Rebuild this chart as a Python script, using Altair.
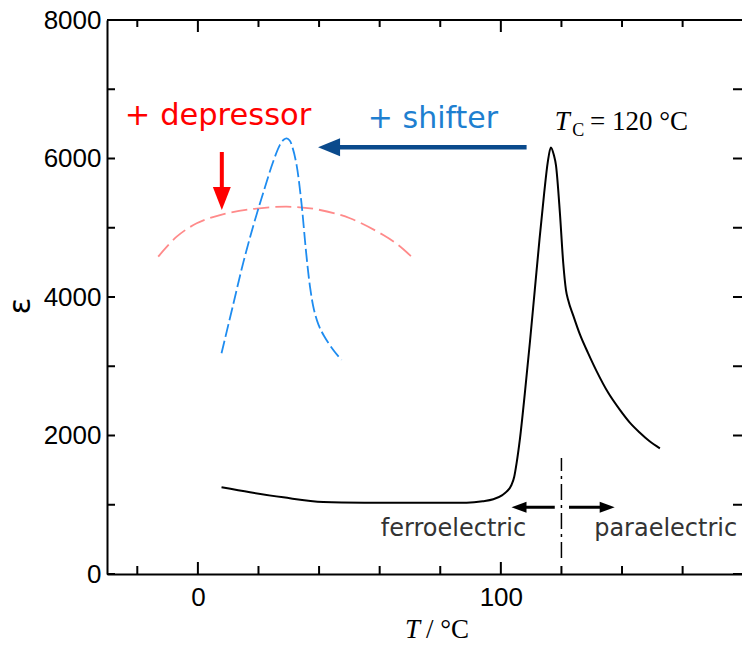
import altair as alt
import pandas as pd

# ---------------- data ----------------
# base material (black, solid)
T_black = [7.8, 17.2, 28.2, 41.4, 55, 70, 88.7, 94, 97.5, 100.5, 101.9, 103.5, 104.4,
           105.2, 106.3, 107.9, 109.6, 111.2, 112.8, 114.3, 115.5, 116.5, 117.5, 118.2,
           119.5, 120.6, 121.5, 122.2, 124.0, 126.1, 128.8, 131.6, 135.4, 139.3, 142.5,
           145.9, 149.0, 152.5]
eps_black = [1252, 1180, 1107, 1040, 1030, 1028, 1030, 1050, 1079, 1140, 1189, 1285, 1400,
             1600, 1950, 2600, 3350, 4100, 4850, 5500, 5950, 6160, 6050, 5900,
             5209, 4487, 4100, 3960, 3720, 3460, 3190, 2930, 2620, 2370, 2190,
             2040, 1920, 1815]

# + shifter (blue, dashed)
T_shifter = [7.8, 11.7, 15.0, 18.3, 21.6, 24.9, 27.0, 28.3, 29.3, 30.3, 31.3, 32.6, 34.2,
             35.6, 37.0, 38.3, 39.8, 41.6, 44.7, 47.4]
eps_shifter = [3187, 3900, 4500, 5030, 5510, 5960, 6190, 6270, 6290, 6260, 6150, 5900, 5353,
               4700, 4150, 3820, 3600, 3440, 3235, 3090]

# + depressor (pink, dashed)
T_depressor = [-13.1, -7.0, -0.4, 7.3, 17.2, 29.3, 39.2, 50.2, 61.2, 66.1, 70.6]
eps_depressor = [4582, 4871, 5064, 5184, 5266, 5304, 5266, 5137, 4895, 4751, 4578]

# axis ticks
x_labels = [0, 100]
x_minor = [-20, 20, 40, 60, 80, 120, 140, 160]
x_major = [0, 100]
y_labels = [0, 2000, 4000, 6000, 8000]
y_ticks = [0, 1000, 2000, 3000, 4000, 5000, 6000, 7000, 8000]

# annotation anchors (data coordinates)
Tc = 120
tc_line = [231, 1675]          # vertical dash-dot line extent (eps)
red_arrow = dict(T=7.9, top=6094, head=5422)
navy_arrow = dict(start=108.5, head=43.3, eps=6162)
phase_arrows_eps = 963
left_arrow = dict(start=117.8, head=106.0)
right_arrow = dict(start=122.5, head=135.1)

labels_depressor = [{"x": -24.1, "y": 6484, "t": "+ depressor"}]
labels_shifter = [{"x": 56.1, "y": 6440, "t": "+ shifter"}]
labels_phase = [{"x": 60.4, "y": 549, "t": "ferroelectric"},
                {"x": 130.8, "y": 549, "t": "paraelectric"}]
tc_T = [{"x": 117.8, "y": 6412, "t": "T"}]
tc_sub = [{"x": 123.6, "y": 6325, "t": "C"}]
tc_rest = [{"x": 129.4, "y": 6412, "t": "= 120 °C"}]

# ---------------- layout ----------------
W, H = 635, 554
xs = alt.Scale(domain=[-30, 179.6], nice=False, zero=False)
ys = alt.Scale(domain=[0, 8000], nice=False, zero=False)

x_axis = alt.Axis(values=x_labels, title=None, ticks=False, grid=False, format="d",
                  domainColor="black", domainWidth=2, labelFont="Liberation Sans",
                  labelFontSize=26, labelColor="black", labelPadding=10, labelFlush=False)
y_axis = alt.Axis(values=y_labels, title=None, ticks=False, grid=False, format="d",
                  domainColor="black", domainWidth=2, labelFont="Liberation Sans",
                  labelFontSize=26, labelColor="black", labelPadding=6, labelFlush=False)


def X(f="T"):
    return alt.X(f"{f}:Q", scale=xs, axis=x_axis)


def Y(f="eps"):
    return alt.Y(f"{f}:Q", scale=ys, axis=y_axis)


one = pd.DataFrame({"a": [0]})

black = alt.Chart(pd.DataFrame({"T": T_black, "eps": eps_black})).mark_line(
    color="black", strokeWidth=2, interpolate="monotone").encode(x=X(), y=Y())

blue = alt.Chart(pd.DataFrame({"T": T_shifter, "eps": eps_shifter})).mark_line(
    color="#1e8cf0", strokeWidth=1.8, strokeDash=[13, 4], interpolate="catmull-rom"
).encode(x=X(), y=Y())

pink = alt.Chart(pd.DataFrame({"T": T_depressor, "eps": eps_depressor})).mark_line(
    color="#ff8a8a", strokeWidth=1.8, strokeDash=[16, 6], interpolate="catmull-rom"
).encode(x=X(), y=Y())

# red arrow (down)
red_shaft = alt.Chart(pd.DataFrame([red_arrow])).mark_rule(color="#ff0000", strokeWidth=4).encode(
    x=X("T"), y=Y("top"), y2="head:Q")
red_head = alt.Chart(pd.DataFrame([red_arrow])).mark_point(
    shape="M-0.78,-1L0.78,-1L0,1Z", size=529, filled=True, opacity=1,
    color="#ff0000", strokeWidth=0).encode(x=X("T"), y=Y("head"))

# navy arrow (left)
navy_shaft = alt.Chart(pd.DataFrame([navy_arrow])).mark_rule(color="#0a4a8c", strokeWidth=4.5).encode(
    x=X("start"), x2="head:Q", y=Y("eps"))
navy_head = alt.Chart(pd.DataFrame([navy_arrow])).mark_point(
    shape="M1,-0.82L1,0.82L-1,0Z", size=484, filled=True, opacity=1,
    color="#0a4a8c", strokeWidth=0).encode(x=X("head"), y=Y("eps"))

# phase arrows
pa = pd.DataFrame([{**left_arrow, "eps": phase_arrows_eps, "dir": "L"},
                   {**right_arrow, "eps": phase_arrows_eps, "dir": "R"}])
pa_shaft = alt.Chart(pa).mark_rule(color="black", strokeWidth=3).encode(
    x=X("start"), x2="head:Q", y=Y("eps"))
pa_head_l = alt.Chart(pa[pa.dir == "L"]).mark_point(
    shape="M1,-0.73L1,0.73L-1,0Z", size=225, filled=True, opacity=1,
    color="black", strokeWidth=0).encode(x=X("head"), y=Y("eps"))
pa_head_r = alt.Chart(pa[pa.dir == "R"]).mark_point(
    shape="M-1,-0.73L-1,0.73L1,0Z", size=225, filled=True, opacity=1,
    color="black", strokeWidth=0).encode(x=X("head"), y=Y("eps"))

tc_rule = alt.Chart(pd.DataFrame({"T": [Tc], "e1": [tc_line[0]], "e2": [tc_line[1]]})).mark_rule(
    color="black", strokeWidth=1.5, strokeDash=[16, 5, 3, 5]).encode(x=X("T"), y=Y("e1"), y2="e2:Q")


def txt(rows, **kw):
    return alt.Chart(pd.DataFrame(rows)).mark_text(align="left", baseline="alphabetic", **kw).encode(
        x=X("x"), y=Y("y"), text="t:N")


t_dep = txt(labels_depressor, font="DejaVu Sans", fontSize=30.5, color="#ff0000")
t_shf = txt(labels_shifter, font="DejaVu Sans", fontSize=30, color="#1e7fd0")
t_phase = txt(labels_phase, font="DejaVu Sans", fontSize=24, color="#333333")
t_tc1 = txt(tc_T, font="Liberation Serif", fontSize=27, fontStyle="italic", color="black")
t_tc2 = txt(tc_sub, font="Liberation Serif", fontSize=18, color="black")
t_tc3 = txt(tc_rest, font="Liberation Serif", fontSize=27, color="black")

# axis titles
xt1 = alt.Chart(one).mark_text(align="left", baseline="alphabetic", font="Liberation Serif",
                               fontSize=27, fontStyle="italic", color="black", text="T").encode(
    x=alt.value(298), y=alt.value(618))
xt2 = alt.Chart(one).mark_text(align="left", baseline="alphabetic", font="Liberation Serif",
                               fontSize=27, color="black", text="/ °C").encode(
    x=alt.value(319), y=alt.value(618))
yt = alt.Chart(one).mark_text(align="center", baseline="middle", font="DejaVu Sans",
                              fontSize=31, color="black", angle=270, text="ε").encode(
    x=alt.value(-86), y=alt.value(286))

# inward ticks & top frame
bx_minor = alt.Chart(pd.DataFrame({"T": x_minor})).mark_rule(color="black", strokeWidth=2).encode(
    x=X("T"), y=alt.value(H), y2=alt.value(H - 8))
bx_major = alt.Chart(pd.DataFrame({"T": x_major})).mark_rule(color="black", strokeWidth=2).encode(
    x=X("T"), y=alt.value(H), y2=alt.value(H - 12))
tx_minor = alt.Chart(pd.DataFrame({"T": x_minor})).mark_rule(color="black", strokeWidth=2).encode(
    x=X("T"), y=alt.value(0), y2=alt.value(7))
tx_major = alt.Chart(pd.DataFrame({"T": x_major})).mark_rule(color="black", strokeWidth=2).encode(
    x=X("T"), y=alt.value(0), y2=alt.value(12))
ly = alt.Chart(pd.DataFrame({"eps": y_ticks})).mark_rule(color="black", strokeWidth=2).encode(
    y=Y("eps"), x=alt.value(0), x2=alt.value(8))
ry = alt.Chart(pd.DataFrame({"eps": y_ticks})).mark_rule(color="black", strokeWidth=2).encode(
    y=Y("eps"), x=alt.value(W), x2=alt.value(W - 9))
top = alt.Chart(one).mark_rule(color="black", strokeWidth=2).encode(
    x=alt.value(0), x2=alt.value(W), y=alt.value(0))

chart = alt.layer(
    black, pink, blue, red_shaft, red_head, navy_shaft, navy_head,
    pa_shaft, pa_head_l, pa_head_r, tc_rule,
    t_dep, t_shf, t_phase, t_tc1, t_tc2, t_tc3, xt1, xt2, yt,
    bx_minor, bx_major, tx_minor, tx_major, ly, ry, top
).properties(
    width=W, height=H,
    autosize=alt.AutoSizeParams(type="none"),
    padding={"left": 107, "top": 20, "right": 0, "bottom": 74},
    background="white",
).configure_view(stroke=None)

chart.save("out.html", embed_options={"renderer": "svg", "actions": False})
